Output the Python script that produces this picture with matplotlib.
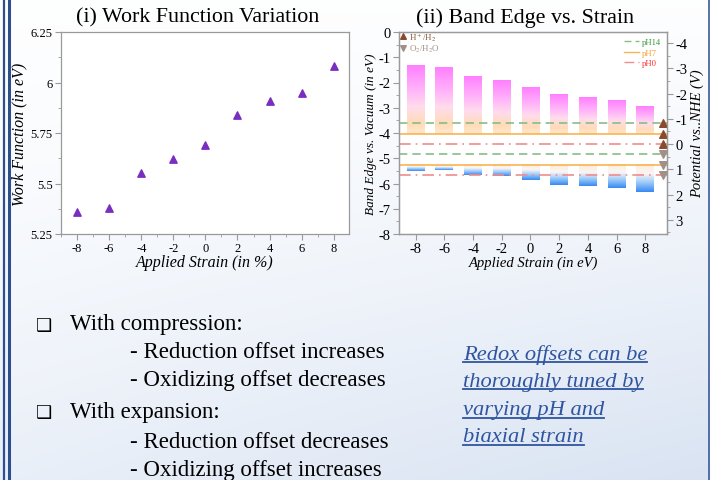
import numpy as np
import matplotlib
matplotlib.use("Agg")
import matplotlib.pyplot as plt
from matplotlib.colors import LinearSegmentedColormap
from matplotlib.lines import Line2D
from matplotlib.ticker import MultipleLocator

plt.rcParams['font.family'] = ['Liberation Serif', 'DejaVu Sans']
plt.rcParams['mathtext.fontset'] = 'stix'

# ---- data ----
strain = [-8, -6, -4, -2, 0, 2, 4, 6, 8]
work_function = [5.36, 5.38, 5.55, 5.62, 5.69, 5.84, 5.91, 5.95, 6.08]

cb_edge = [-1.30, -1.40, -1.75, -1.92, -2.20, -2.45, -2.58, -2.70, -2.95]
vb_edge = [-5.50, -5.45, -5.68, -5.72, -5.88, -6.05, -6.08, -6.18, -6.33]

# redox levels vs vacuum (eV)
h_levels = [-3.62, -4.03, -4.44]     # H+/H2 at pH14, pH7, pH0
o_levels = [-4.85, -5.26, -5.67]     # O2/H2O at pH14, pH7, pH0
ph_labels = ['pH14', 'pH7', 'pH0']
nhe_offset = -4.44   # NHE potential = -E_vac + nhe_offset

W, H = 710, 481
fig = plt.figure(figsize=(W / 100, H / 100), dpi=100)

# slide background
bg = fig.add_axes([0, 0, 1, 1], zorder=-10)
yy, xx = np.mgrid[0:1:200j, 0:1:300j]
t = np.clip(0.55 * yy ** 1.5 + 0.45 * xx * yy, 0, 1)
top_c = np.array([0.995, 0.997, 1.0])
bot_c = np.array([0.85, 0.89, 0.95])
img = top_c[None, None, :] * (1 - t[..., None]) + bot_c[None, None, :] * t[..., None]
bg.imshow(img, aspect='auto', extent=(0, 1, 0, 1), origin='upper')
bg.set_xlim(0, 1)
bg.set_ylim(0, 1)
bg.axis('off')
for x, lw in [(4, 1.6), (8.5, 2.2)]:
    bg.axvline(x / W, color='#2e4f8e', lw=lw, zorder=2)
bg.axvline(708.5 / W, color='#3a5a98', lw=1.2, zorder=2)

spine_c = '#9a9a9a'


def style(ax):
    for s in ax.spines.values():
        s.set_color(spine_c)
        s.set_linewidth(0.9)
    ax.tick_params(which='both', direction='out', color=spine_c)
    ax.tick_params(which='major', length=4)
    ax.tick_params(which='minor', length=2)


# ---- (i) work function ----
ax1 = fig.add_axes([61 / W, 1 - 235 / H, 288 / W, 202 / H])
ax1.set_facecolor('white')
ax1.scatter(strain, work_function, marker='^', s=28, color='#7a2ec0', zorder=3)
ax1.set_xlim(-9, 8.95)
ax1.set_ylim(5.25, 6.25)
ax1.set_xticks(strain)
ax1.set_xticklabels([str(s) for s in strain])
ax1.xaxis.set_minor_locator(MultipleLocator(1))
ax1.set_yticks([5.25, 5.5, 5.75, 6.0, 6.25])
ax1.set_yticklabels(['5.25', '5.5', '5.75', '6', '6.25'])
ax1.yaxis.set_minor_locator(MultipleLocator(0.125))
style(ax1)
ax1.tick_params(labelsize=9, pad=2)
ax1.set_xlabel('Applied Strain (in %)', style='italic', fontsize=11.5, labelpad=0)
ax1.set_ylabel('Work Function (in eV)', style='italic', fontsize=11.5, labelpad=2)
fig.text(198 / W, 1 - 18 / H, '(i) Work Function Variation', ha='center', va='center', fontsize=15.8)

# ---- (ii) band edge ----
ax2 = fig.add_axes([399 / W, 1 - 235 / H, 268 / W, 202 / H])
ax2.set_facecolor('white')
bw = 1.25
cb_cmap = LinearSegmentedColormap.from_list('cb', [
    (0.0, (1.0, 0.50, 1.0)),
    (0.35, (1.0, 0.70, 0.98)),
    (0.60, (1.0, 0.86, 0.93)),
    (0.85, (1.0, 0.86, 0.72)),
    (1.0, (1.0, 0.91, 0.80)),
])
vb_cmap = LinearSegmentedColormap.from_list('vb', [
    (0.0, (1.0, 0.93, 0.85)),
    (0.35, (0.98, 0.96, 0.96)),
    (0.65, (0.62, 0.80, 0.98)),
    (1.0, (0.22, 0.54, 0.95)),
])
grad = np.linspace(0, 1, 100)[:, None]
cb_bottom = h_levels[1]
vb_top = o_levels[1]
for x, c, v in zip(strain, cb_edge, vb_edge):
    ax2.imshow(grad, cmap=cb_cmap, aspect='auto', origin='upper',
               extent=(x - bw / 2, x + bw / 2, cb_bottom, c), zorder=1)
    ax2.imshow(grad, cmap=vb_cmap, aspect='auto', origin='upper',
               extent=(x - bw / 2, x + bw / 2, v, vb_top), zorder=1)

line_styles = [dict(color='#86be86', ls=(0, (5, 3))),
               dict(color='#f9b450', ls='-'),
               dict(color='#f08c8c', ls=(0, (7, 3, 1, 3)))]
handles = []
for lvl_h, lvl_o, st, lab in zip(h_levels, o_levels, line_styles, ph_labels):
    ax2.axhline(lvl_h, lw=1.2, zorder=2, **st)
    ax2.axhline(lvl_o, lw=1.2, zorder=2, **st)
    handles.append(Line2D([], [], lw=1.0, label=lab, **st))

ax2.scatter([9.2] * 3, h_levels, marker='^', s=30, color='#8b4a2b', zorder=4, clip_on=False)
ax2.scatter([9.2] * 3, o_levels, marker='v', s=30, color='#a09088', zorder=4, clip_on=False)

ax2.set_xlim(-9.15, 9.5)
ax2.set_ylim(-8, 0)
ax2.set_xticks(strain)
ax2.set_xticklabels([str(s) for s in strain])
ax2.yaxis.set_major_locator(MultipleLocator(1))
ax2.yaxis.set_minor_locator(MultipleLocator(0.5))
ax2.set_yticklabels([str(int(v)) for v in ax2.get_yticks()])
style(ax2)
ax2.tick_params(labelsize=10.5, pad=2)
ax2.set_xlabel('Applied Strain (in eV)', style='italic', fontsize=10.5, labelpad=0)
ax2.set_ylabel(r'Band Edge vs. Vacuum (in eV)', style='italic', fontsize=9.5, labelpad=1)

ax3 = ax2.twinx()
e_lo, e_hi = ax2.get_ylim()
ax3.set_ylim(-e_lo + nhe_offset, -e_hi + nhe_offset)
ax3.set_yticks(range(-4, 4))
ax3.set_yticklabels([str(v) for v in range(-4, 4)])
ax3.yaxis.set_minor_locator(MultipleLocator(0.5))
style(ax3)
ax3.tick_params(labelsize=10.5, pad=2)
ax3.set_ylabel('Potential vs..NHE (V)', style='italic', fontsize=10.5, labelpad=2)

leg = ax2.legend(handles=handles, loc='upper right', frameon=False, fontsize=6.2,
                 handlelength=1.8, handletextpad=0.3, labelspacing=0.3,
                 borderaxespad=0.3)
for txt, c in zip(leg.get_texts(), ['#3a9a3a', '#f5a030', '#ff3030']):
    txt.set_color(c)

ax2.scatter([-8.85], [-0.17], marker='^', s=16, color='#8b4a2b', zorder=4)
ax2.scatter([-8.85], [-0.63], marker='v', s=16, color='#a09088', zorder=4)
ax2.text(-8.45, -0.17, r'H$^+$/H$_2$', fontsize=6.5, color='#8b5a3c', va='center')
ax2.text(-8.45, -0.63, r'O$_2$/H$_2$O', fontsize=6.5, color='#a09088', va='center')

fig.text(525 / W, 1 - 18 / H, '(ii) Band Edge vs. Strain', ha='center', va='center', fontsize=15.8)

# ---- slide text ----
body = 16.5
for y in [326, 413]:
    fig.text(36 / W, 1 - y / H, '\u2751', family='DejaVu Sans', fontsize=13, va='center')
fig.text(70 / W, 1 - 325 / H, 'With compression:', fontsize=body, va='center')
fig.text(130 / W, 1 - 352 / H, '- Reduction offset increases', fontsize=body, va='center')
fig.text(130 / W, 1 - 381 / H, '- Oxidizing offset decreases', fontsize=body, va='center')
fig.text(70 / W, 1 - 413 / H, 'With expansion:', fontsize=body, va='center')
fig.text(130 / W, 1 - 443 / H, '- Reduction offset decreases', fontsize=body, va='center')
fig.text(130 / W, 1 - 471 / H, '- Oxidizing offset increases', fontsize=body, va='center')

note_lines = ['Redox offsets can be', 'thoroughly tuned by', 'varying pH and', 'biaxial strain']
note_y = [355, 382, 411, 438]
notes = []
for s, y in zip(note_lines, note_y):
    notes.append(fig.text(463 / W, 1 - y / H, s, fontsize=16.2, style='italic',
                          color='#2f55a0', va='center'))

fig.canvas.draw()
r = fig.canvas.get_renderer()
for tx in notes:
    bb = tx.get_window_extent(r)
    fig.add_artist(Line2D([bb.x0 / W, bb.x1 / W], [(bb.y0 + 1.5) / H] * 2,
                          color='#2f55a0', lw=1.3))

fig.savefig('out.png', dpi=100)
